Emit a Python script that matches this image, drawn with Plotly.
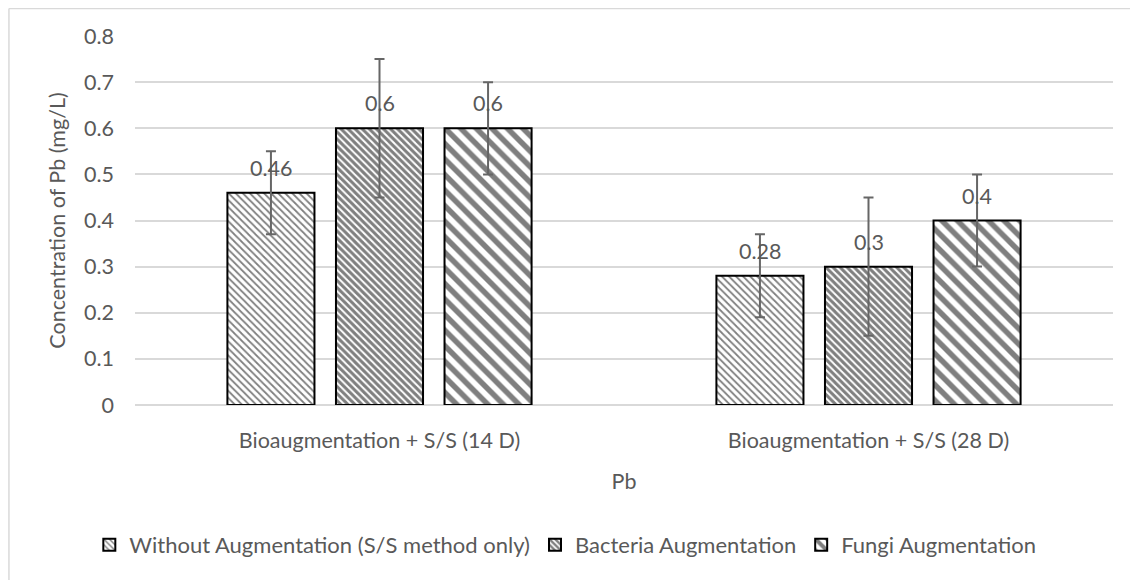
import plotly.graph_objects as go

categories = ["Bioaugmentation + S/S (14 D)", "Bioaugmentation + S/S (28 D)"]
series_names = ["Without Augmentation (S/S method only)", "Bacteria Augmentation", "Fungi Augmentation"]
without_aug = [0.46, 0.28]
bacteria_aug = [0.6, 0.3]
fungi_aug = [0.6, 0.4]
without_err = [0.09, 0.09]
bacteria_err = [0.15, 0.15]
fungi_err = [0.10, 0.10]
y_ticks = [0, 0.1, 0.2, 0.3, 0.4, 0.5, 0.6, 0.7, 0.8]

values = [without_aug, bacteria_aug, fungi_aug]
errors = [without_err, bacteria_err, fungi_err]
patterns = [dict(shape="\\", size=5, solidity=0.35, fgcolor="black", bgcolor="white"),
            dict(shape="\\", size=5, solidity=0.6, fgcolor="black", bgcolor="white"),
            dict(shape="\\", size=11, solidity=0.5, fgcolor="black", bgcolor="white")]

FONT = "Lato"
FS = 21.5
GRAY = "#595959"

fig = go.Figure()
for name, vals, errs, pat in zip(series_names, values, errors, patterns):
    fig.add_trace(go.Bar(
        x=categories, y=vals, name=name,
        marker=dict(color="white", pattern=pat, line=dict(color="black", width=2)),
        error_y=dict(type="data", array=errs, visible=True, color="#666666", thickness=2, width=5),
    ))

# data labels
slot_px = 108.5
for i, vals in enumerate(values):
    for cat, v in zip(categories, vals):
        fig.add_annotation(x=cat, y=v, text=f"{v:g}", showarrow=False,
                           xshift=(i - 1) * slot_px, yshift=25,
                           font=dict(family=FONT, size=FS, color=GRAY))

# outer chart border (left and top visible)
fig.add_shape(type="line", xref="paper", yref="paper", x0=-0.1289, x1=-0.1289, y0=-0.6, y1=1.0745,
              line=dict(color="#d9d9d9", width=1.5))
fig.add_shape(type="line", xref="paper", yref="paper", x0=-0.1289, x1=1.2, y0=1.0745, y1=1.0745,
              line=dict(color="#d9d9d9", width=1.5))

fig.update_layout(
    width=1130, height=572,
    margin=dict(l=127, r=25, t=28, b=175),
    paper_bgcolor="white", plot_bgcolor="white",
    barmode="group", bargap=0.334, bargroupgap=0.198,
    font=dict(family=FONT, size=FS, color=GRAY),
    showlegend=True,
    legend=dict(orientation="h", x=0.44, xanchor="center", y=-0.379, yanchor="middle",
                font=dict(family=FONT, size=22, color=GRAY)),
    xaxis=dict(showgrid=False, showline=False, ticks="", ticklabelstandoff=20,
               tickfont=dict(family=FONT, size=FS, color=GRAY),
               title=dict(text="Pb", font=dict(family=FONT, size=FS, color=GRAY), standoff=22)),
    yaxis=dict(range=[0, 0.8], tickvals=y_ticks, ticktext=[f"{t:g}" for t in y_ticks],
               showgrid=True, gridcolor="#d9d9d9", gridwidth=1.5,
               zeroline=True, zerolinecolor="#d9d9d9", zerolinewidth=1.5,
               ticks="", ticklabelstandoff=20,
               tickfont=dict(family=FONT, size=FS, color=GRAY),
               title=dict(text="Concentration of Pb (mg/L)", font=dict(family=FONT, size=FS, color=GRAY), standoff=12)),
)

fig.write_html("out.html")
